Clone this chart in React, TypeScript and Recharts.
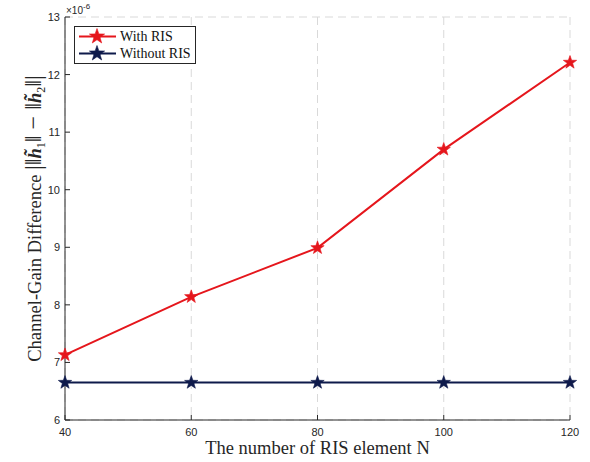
import React from 'react';
import {
  LineChart,
  Line,
  XAxis,
  YAxis,
  CartesianGrid,
  Legend,
  Label,
} from 'recharts';

const elementCounts = [40, 60, 80, 100, 120];
const withRis = [7.13, 8.14, 8.99, 10.7, 12.21];
const withoutRis = [6.65, 6.65, 6.65, 6.65, 6.65];
const xTicks = [40, 60, 80, 100, 120];
const yTicks = [6, 7, 8, 9, 10, 11, 12, 13];

const RED = '#e5161c';
const NAVY = '#0e1a4b';
const AXIS = '#262626';
const SERIF = '"Liberation Serif", "Times New Roman", serif';
const SANS = '"Liberation Sans", Arial, sans-serif';

const data = elementCounts.map((n, i) => ({
  n,
  withRis: withRis[i],
  withoutRis: withoutRis[i],
}));

function starPath(cx: number, cy: number, r: number) {
  const inner = r * 0.4;
  let d = '';
  for (let i = 0; i < 10; i++) {
    const rad = i % 2 === 0 ? r : inner;
    const a = -Math.PI / 2 + (i * Math.PI) / 5;
    d += `${i === 0 ? 'M' : 'L'}${(cx + rad * Math.cos(a)).toFixed(2)},${(cy + rad * Math.sin(a)).toFixed(2)}`;
  }
  return d + 'Z';
}

const makeStar = (color: string) => (props: any) => {
  const { cx, cy, index } = props;
  if (cx == null || cy == null) return <g key={index} />;
  return <path key={index} d={starPath(cx, cy, 7)} fill={color} stroke={color} strokeWidth={0.6} />;
};

const LeftTick = (props: any) => {
  const { x, y, payload } = props;
  return (
    <g>
      <line x1={x + 5} x2={x + 10} y1={y} y2={y} stroke={AXIS} strokeWidth={1} />
      <text x={x} y={y} dy={4} textAnchor="end" fontSize={11} fontFamily={SANS} fill={AXIS}>
        {payload.value}
      </text>
    </g>
  );
};

const RightTick = (props: any) => {
  const { x, y } = props;
  return <line x1={x - 5} x2={x} y1={y} y2={y} stroke={AXIS} strokeWidth={1} />;
};

const BottomTick = (props: any) => {
  const { x, y, payload } = props;
  return (
    <g>
      <line x1={x} x2={x} y1={y - 7} y2={y - 12} stroke={AXIS} strokeWidth={1} />
      <text x={x} y={y} dy={9} textAnchor="middle" fontSize={11} fontFamily={SANS} fill={AXIS}>
        {payload.value}
      </text>
    </g>
  );
};

const TopTick = (props: any) => {
  const { x, y } = props;
  return <line x1={x} x2={x} y1={y} y2={y + 5} stroke={AXIS} strokeWidth={1} />;
};

const YTitle = (props: any) => {
  const { viewBox } = props;
  const cx = viewBox.x + 41;
  const cy = viewBox.y + viewBox.height / 2;
  return (
    <text
      x={cx}
      y={cy}
      transform={`rotate(-90, ${cx}, ${cy})`}
      textAnchor="middle"
      fontFamily={SERIF}
      fontSize={18.5}
      fill={AXIS}
    >
      <tspan>Channel-Gain Difference </tspan>
      <tspan fontSize={24}>|‖</tspan>
      <tspan fontStyle="italic" fontWeight="bold">h̃</tspan>
      <tspan fontSize={12} dy={4}>1</tspan>
      <tspan fontSize={24} dy={-4}>‖ − ‖</tspan>
      <tspan fontStyle="italic" fontWeight="bold">h̃</tspan>
      <tspan fontSize={12} dy={4}>2</tspan>
      <tspan fontSize={24} dy={-4}>‖|</tspan>
    </text>
  );
};

const Exponent = (props: any) => {
  const { viewBox } = props;
  const x = viewBox.x + viewBox.width + 1;
  const y = viewBox.y - 3;
  return (
    <text x={x} y={y} fontFamily={SANS} fontSize={10} fill={AXIS}>
      ×10
      <tspan fontSize={8} dy={-5}>
        -6
      </tspan>
    </text>
  );
};

const XTitle = (props: any) => {
  const { viewBox } = props;
  return (
    <text
      x={viewBox.x + viewBox.width / 2}
      y={viewBox.y + 34}
      textAnchor="middle"
      fontFamily={SERIF}
      fontSize={18.5}
      fill={AXIS}
    >
      The number of RIS element N
    </text>
  );
};

const renderLegend = (props: any) => {
  const { payload = [] } = props;
  return (
    <div
      style={{
        border: `1px solid ${AXIS}`,
        background: '#fff',
        padding: '1px 4px 1px 3px',
        fontFamily: SERIF,
        fontSize: 14,
        color: '#111',
        lineHeight: '17px',
      }}
    >
      {payload.map((entry: any) => (
        <div key={entry.value} style={{ display: 'flex', alignItems: 'center', height: 17 }}>
          <svg width={40} height={17} style={{ marginRight: 2 }}>
            <line x1={1} x2={38} y1={8.5} y2={8.5} stroke={entry.color} strokeWidth={2} />
            <path d={starPath(19, 8.5, 8)} fill={entry.color} stroke={entry.color} strokeWidth={0.6} />
          </svg>
          <span>{entry.value}</span>
        </div>
      ))}
    </div>
  );
};

export default function App() {
  return (
    <div style={{ position: 'absolute', left: 0, top: 0, width: 586, height: 462, overflow: 'hidden', background: '#fff' }}>
      <LineChart
        width={586}
        height={462}
        data={data}
        margin={{ top: 17, right: 16, bottom: 12, left: 0 }}
      >
        <CartesianGrid stroke="#d9d9d9" strokeDasharray="8 5" strokeWidth={1} />
        <XAxis
          xAxisId="b"
          dataKey="n"
          type="number"
          domain={[40, 120]}
          ticks={xTicks}
          interval={0}
          height={30}
          axisLine={{ stroke: AXIS, strokeWidth: 1 }}
          tickLine={false}
          tickSize={0}
          tickMargin={7}
          tick={<BottomTick />}
        >
          <Label content={<XTitle />} />
        </XAxis>
        <XAxis
          xAxisId="t"
          orientation="top"
          dataKey="n"
          type="number"
          domain={[40, 120]}
          ticks={xTicks}
          interval={0}
          height={0}
          axisLine={{ stroke: AXIS, strokeWidth: 1 }}
          tickLine={false}
          tickSize={0}
          tickMargin={0}
          tick={<TopTick />}
        />
        <YAxis
          yAxisId="l"
          type="number"
          domain={[6, 13]}
          ticks={yTicks}
          interval={0}
          width={65}
          axisLine={{ stroke: AXIS, strokeWidth: 1 }}
          tickLine={false}
          tickSize={0}
          tickMargin={5}
          tick={<LeftTick />}
        >
          <Label content={<YTitle />} />
          <Label content={<Exponent />} />
        </YAxis>
        <YAxis
          yAxisId="r"
          orientation="right"
          type="number"
          domain={[6, 13]}
          ticks={yTicks}
          interval={0}
          width={0}
          axisLine={{ stroke: AXIS, strokeWidth: 1 }}
          tickLine={false}
          tickSize={0}
          tickMargin={0}
          tick={<RightTick />}
        />
        <Legend
          layout="horizontal"
          verticalAlign="middle"
          align="center"
          content={renderLegend}
          wrapperStyle={{ left: 74, top: 26, width: 'auto', height: 'auto' }}
        />
        <Line
          xAxisId="b"
          yAxisId="l"
          dataKey="withRis"
          name="With RIS"
          stroke={RED}
          strokeWidth={2}
          dot={makeStar(RED)}
          isAnimationActive={false}
        />
        <Line
          xAxisId="b"
          yAxisId="l"
          dataKey="withoutRis"
          name="Without RIS"
          stroke={NAVY}
          strokeWidth={2}
          dot={makeStar(NAVY)}
          isAnimationActive={false}
        />
      </LineChart>
    </div>
  );
}
